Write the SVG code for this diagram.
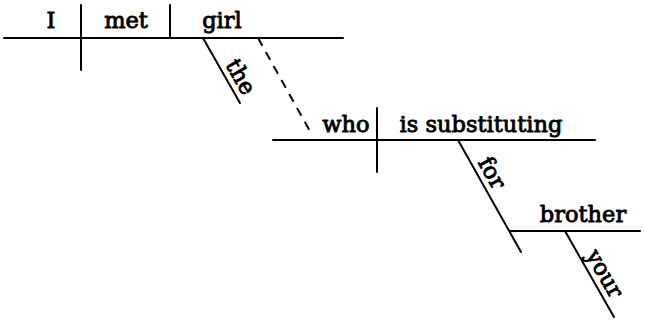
<svg xmlns="http://www.w3.org/2000/svg" width="645" height="322" viewBox="0 0 645 322">
<style>
.l{stroke:#000;stroke-width:2;fill:none;stroke-linecap:round}
.d{stroke-dasharray:9 7;stroke-linecap:butt}
.t{font-family:"DejaVu Serif","Liberation Serif",serif;font-size:22.5px;fill:#000;stroke:#000;stroke-width:0.9;stroke-linejoin:round}
.m{text-anchor:middle}
</style>
<rect width="645" height="322" fill="#fff"/>
<g id="connectors">
<line class="l" x1="4" y1="38" x2="343" y2="38"/>
<line class="l" x1="81" y1="5" x2="81" y2="70"/>
<line class="l" x1="170" y1="5" x2="170" y2="38"/>
<line class="l" x1="203" y1="38" x2="240" y2="103"/>
<line class="l d" x1="258" y1="38" x2="311" y2="133"/>
<line class="l" x1="273" y1="140" x2="595" y2="140"/>
<line class="l" x1="377" y1="108" x2="377" y2="172"/>
<line class="l" x1="458" y1="140" x2="521" y2="252"/>
<line class="l" x1="510" y1="231" x2="640" y2="231"/>
<line class="l" x1="565" y1="231" x2="614" y2="317"/>
</g>
<g id="n-I"><text class="t m" x="51" y="28">I</text></g>
<g id="n-met"><text class="t m" x="126" y="28">met</text></g>
<g id="n-girl"><text class="t m" x="222" y="28">girl</text></g>
<g id="n-the"><text class="t" transform="translate(203,38) rotate(60.3)" x="34" y="-6">the</text></g>
<g id="n-who"><text class="t m" x="346" y="132">who</text></g>
<g id="n-is"><text class="t m" x="481" y="132">is substituting</text></g>
<g id="n-for"><text class="t" transform="translate(458,140) rotate(60.6)" x="29" y="-6">for</text></g>
<g id="n-brother"><text class="t m" x="583" y="222">brother</text></g>
<g id="n-your"><text class="t" transform="translate(565,231) rotate(60.3)" x="31" y="-6">your</text></g>
</svg>
